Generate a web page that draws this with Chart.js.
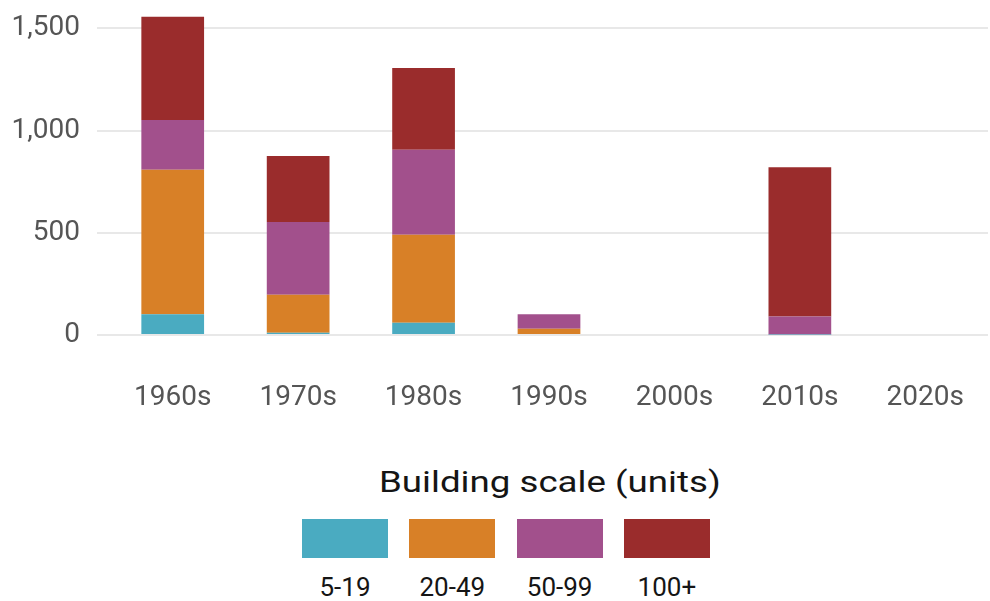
<!DOCTYPE html>
<html>
<head>
<meta charset="utf-8">
<script src="https://cdn.jsdelivr.net/npm/chart.js@4/dist/chart.umd.min.js"></script>
<style>
  html, body { margin: 0; padding: 0; background: #fff; }
  #wrap { position: relative; width: 990px; height: 601px; overflow: hidden; font-family: Roboto, "Noto Sans", sans-serif; }
  #chartBox { position: absolute; left: 0; top: 0; width: 990px; height: 430px; }
  #legTitle { position: absolute; left: 379px; top: 468px; font-size: 29px; line-height: 1; color: #151515; white-space: nowrap; transform: scaleX(1.265); transform-origin: 0 0; }
  #legItems { position: absolute; left: 302px; top: 519px; display: flex; gap: 21.3px; }
  .item { width: 86px; display: flex; flex-direction: column; align-items: center; }
  .swatch { width: 86px; height: 39px; }
  .lab { margin-top: 16px; font-size: 26px; line-height: 1; color: #151515; white-space: nowrap; }
</style>
</head>
<body>
<div id="wrap">
  <div id="chartBox"><canvas id="c"></canvas></div>
  <div id="legTitle"></div>
  <div id="legItems"></div>
</div>
<script>
const categories = ["1960s", "1970s", "1980s", "1990s", "2000s", "2010s", "2020s"];
const seriesNames = ["5-19", "20-49", "50-99", "100+"];
const units5to19   = [102, 11, 60, 0, 0, 3, 0];
const units20to49  = [706, 186, 431, 31, 0, 0, 0];
const units50to99  = [244, 356, 415, 71, 0, 87, 0];
const units100plus = [505, 323, 400, 0, 0, 731, 0];
const yTicks = [0, 500, 1000, 1500];
const legendTitle = "Building scale (units)";
const colors = ["#4aabc1", "#d88027", "#a2508c", "#9a2c2c"];

const seriesValues = [units5to19, units20to49, units50to99, units100plus];

const chart = new Chart(document.getElementById('c'), {
  type: 'bar',
  data: {
    labels: categories,
    datasets: seriesNames.map((n, i) => ({
      label: n,
      data: seriesValues[i],
      backgroundColor: colors[i],
      borderWidth: 0,
      categoryPercentage: 1.0,
      barPercentage: 0.5
    }))
  },
  options: {
    responsive: true,
    maintainAspectRatio: false,
    animation: false,
    layout: { padding: { top: 8, right: 2, left: 0, bottom: 0 } },
    plugins: { legend: { display: false }, tooltip: { enabled: false } },
    scales: {
      x: {
        stacked: true,
        grid: { display: false, drawTicks: false },
        border: { display: false },
        ticks: { color: '#555', font: { family: 'Roboto', size: 28 }, padding: 46, maxRotation: 0 },
        afterFit: (s) => { s.height = 95; s.paddingLeft = 0; s.paddingRight = 0; }
      },
      y: {
        stacked: true,
        min: 0,
        max: 1600,
        grid: { color: '#e8e8e8', lineWidth: 2, tickLength: 13, drawTicks: true },
        border: { display: false },
        ticks: {
          color: '#555',
          font: { family: 'Roboto', size: 28 },
          padding: 17,
          callback: (v) => Number(v).toLocaleString('en-US')
        },
        afterBuildTicks: (s) => { s.ticks = yTicks.map(v => ({ value: v })); },
        afterFit: (s) => { s.width = 110; s.paddingTop = 0; s.paddingBottom = 0; }
      }
    }
  }
});

document.getElementById('legTitle').textContent = legendTitle;
const items = document.getElementById('legItems');
chart.data.datasets.forEach(ds => {
  const it = document.createElement('div');
  it.className = 'item';
  const sw = document.createElement('div');
  sw.className = 'swatch';
  sw.style.background = ds.backgroundColor;
  const lb = document.createElement('div');
  lb.className = 'lab';
  lb.textContent = ds.label;
  it.appendChild(sw); it.appendChild(lb);
  items.appendChild(it);
});
</script>
</body>
</html>
